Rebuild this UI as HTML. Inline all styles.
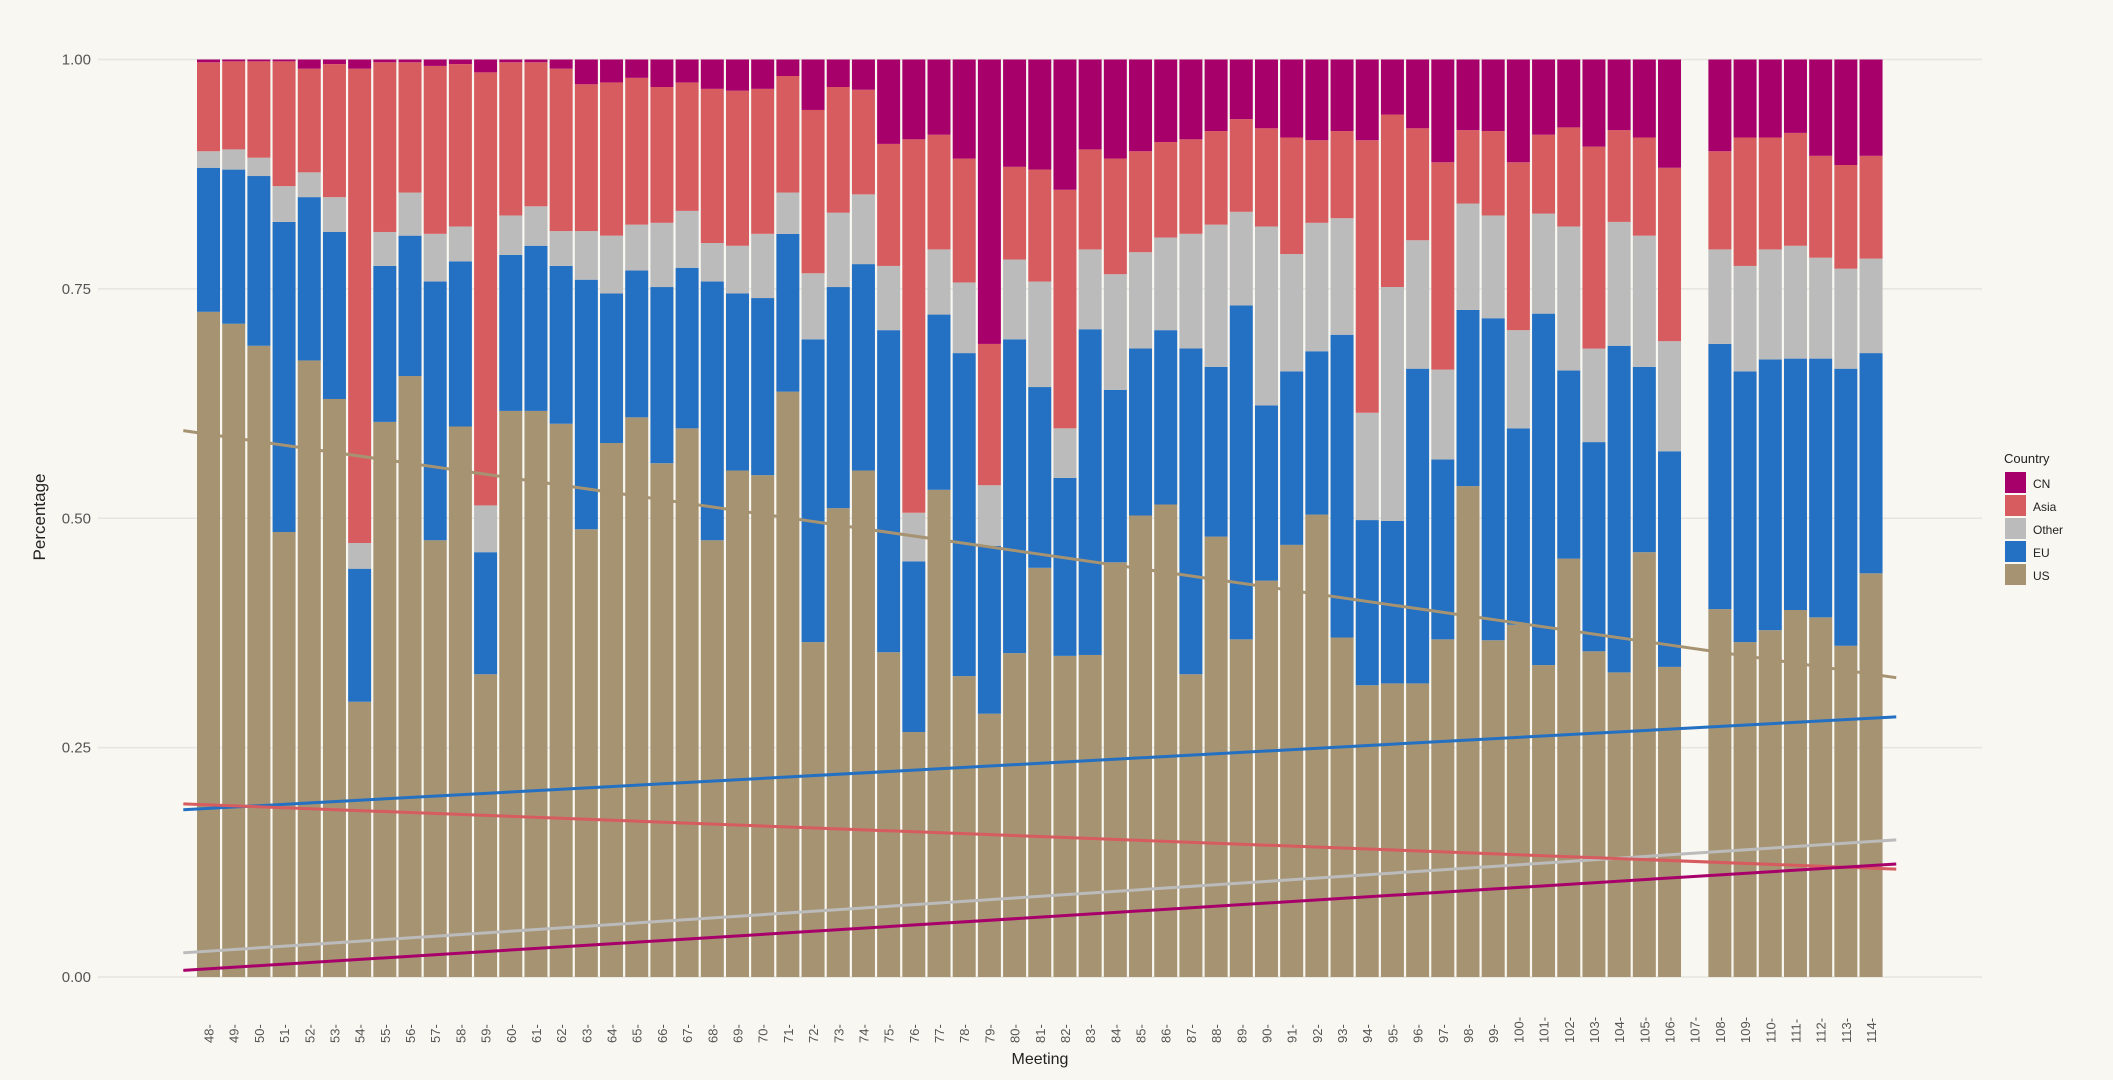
<!DOCTYPE html>
<html><head><meta charset="utf-8"><style>
html,body{margin:0;padding:0;background:#f8f7f1;}
svg{display:block;font-family:"Liberation Sans",sans-serif;}
</style></head><body>
<svg id="chart" width="2113" height="1080" viewBox="0 0 2113 1080"></svg>
<script>
const meetings = [48,49,50,51,52,53,54,55,56,57,58,59,60,61,62,63,64,65,66,67,68,69,70,71,72,73,74,75,76,77,78,79,80,81,82,83,84,85,86,87,88,89,90,91,92,93,94,95,96,97,98,99,100,101,102,103,104,105,106,107,108,109,110,111,112,113,114];
const usShare = [.725,.712,.688,.485,.672,.630,.300,.605,.655,.476,.600,.330,.617,.617,.603,.488,.582,.610,.560,.598,.476,.552,.547,.638,.365,.511,.552,.354,.267,.531,.328,.287,.353,.446,.350,.351,.452,.503,.515,.330,.480,.368,.432,.471,.504,.370,.318,.320,.320,.368,.535,.367,.384,.340,.456,.355,.332,.463,.338,null,.401,.365,.378,.400,.392,.361,.440];
const euShare = [.157,.168,.185,.338,.178,.182,.145,.170,.153,.282,.180,.133,.170,.180,.172,.272,.163,.160,.192,.175,.282,.193,.193,.172,.330,.241,.225,.351,.186,.191,.352,.183,.342,.197,.194,.355,.188,.182,.190,.355,.185,.364,.191,.189,.178,.330,.180,.177,.343,.196,.192,.351,.214,.383,.205,.228,.356,.202,.235,null,.289,.295,.295,.274,.282,.302,.240];
const otherShare = [.018,.022,.020,.039,.027,.038,.028,.037,.047,.052,.038,.051,.043,.043,.038,.053,.063,.050,.070,.062,.042,.052,.070,.045,.072,.081,.076,.070,.053,.071,.077,.066,.087,.115,.054,.087,.126,.105,.101,.125,.155,.102,.195,.128,.140,.127,.117,.255,.140,.098,.116,.112,.107,.109,.157,.102,.135,.143,.120,null,.103,.115,.120,.123,.110,.109,.103];
const asiaShare = [.097,.096,.105,.136,.113,.145,.517,.185,.142,.183,.177,.472,.167,.157,.177,.160,.167,.160,.148,.140,.168,.169,.158,.127,.178,.137,.114,.133,.407,.125,.135,.154,.101,.122,.260,.109,.126,.110,.104,.103,.102,.101,.107,.127,.090,.095,.297,.188,.122,.226,.080,.092,.183,.086,.108,.220,.100,.107,.189,null,.107,.140,.122,.123,.111,.113,.112];
const cnShare = [.003,.002,.002,.002,.010,.005,.010,.003,.003,.007,.005,.014,.003,.003,.010,.027,.025,.020,.030,.025,.032,.034,.032,.018,.055,.030,.033,.092,.087,.082,.108,.310,.117,.120,.142,.098,.108,.100,.090,.087,.078,.065,.075,.085,.088,.078,.088,.060,.075,.112,.077,.078,.112,.082,.074,.095,.077,.085,.118,null,.100,.085,.085,.080,.105,.115,.105];
const yTicks = [0,0.25,0.5,0.75,1];
const yTickLabels = ["0.00","0.25","0.50","0.75","1.00"];

const svg = document.getElementById('chart');
const NS = 'http://www.w3.org/2000/svg';
const X0 = 208.5, XSTEP = 25.19, BW = 23;
const Y0 = 977, Y1 = 59.5;
const xs = m => X0 + (m - meetings[0]) * XSTEP;
const ys = v => Y0 - v * (Y0 - Y1);
function mk(tag, attrs, text) {
  const e = document.createElementNS(NS, tag);
  for (const k in attrs) e.setAttribute(k, attrs[k]);
  if (text !== undefined) e.textContent = text;
  svg.appendChild(e);
  return e;
}
yTicks.forEach((t, i) => {
  const g = mk('line', {x1: 98, x2: 1982, y1: ys(t), y2: ys(t), stroke: '#e6e5e1', 'stroke-width': 1.5});
  
  
  const l = mk('text', {x: 91, y: ys(t) + 5, 'text-anchor': 'end', 'font-size': 15, fill: '#555'}, yTickLabels[i]);
  
  
});
const series = [
  {name: 'us', vals: usShare, color: '#a69372'},
  {name: 'eu', vals: euShare, color: '#2470c2'},
  {name: 'other', vals: otherShare, color: '#bbbbbb'},
  {name: 'asia', vals: asiaShare, color: '#d75c5f'},
  {name: 'cn', vals: cnShare, color: '#a8006a'}
];
meetings.forEach((m, i) => {
  let cum = 0;
  series.forEach(s => {
    const v = s.vals[i];
    if (v === null || v === undefined) return;
    const top = Math.min(1, cum + v);
    const r = mk('rect', {x: xs(m) - BW / 2, y: ys(top), width: BW, height: ys(cum) - ys(top), fill: s.color});
    
    
    cum = top;
  });
  const t = mk('text', {transform: `translate(${xs(m) + 5},1043) rotate(-90)`, 'font-size': 13, fill: '#555'}, m + '-');
  
  
});
const xmin = meetings[0] - 1, xmax = meetings[meetings.length - 1] + 1;
series.forEach(s => {
  let n = 0, sx = 0, sy = 0, sxx = 0, sxy = 0;
  meetings.forEach((m, i) => {
    const v = s.vals[i];
    if (v === null) return;
    n++; sx += m; sy += v; sxx += m * m; sxy += m * v;
  });
  const b = (n * sxy - sx * sy) / (n * sxx - sx * sx);
  const a = (sy - b * sx) / n;
  const ln = mk('line', {x1: xs(xmin), y1: ys(a + b * xmin), x2: xs(xmax), y2: ys(a + b * xmax), stroke: s.color, 'stroke-width': 3});
  
  
});
const yt = mk('text', {transform: 'translate(45,517) rotate(-90)', 'text-anchor': 'middle', 'font-size': 17, fill: '#222'}, 'Percentage');


const xt = mk('text', {x: 1040, y: 1064, 'text-anchor': 'middle', 'font-size': 16, fill: '#222'}, 'Meeting');


const lt = mk('text', {x: 2004, y: 463, 'font-size': 13, fill: '#222'}, 'Country');


const legendItems = [['CN', '#a8006a'], ['Asia', '#d75c5f'], ['Other', '#bbbbbb'], ['EU', '#2470c2'], ['US', '#a69372']];
legendItems.forEach((it, i) => {
  const y = 472 + i * 23;
  const r = mk('rect', {x: 2005, y: y, width: 21, height: 21, fill: it[1]});
  
  
  const t = mk('text', {x: 2033, y: y + 16, 'font-size': 12, fill: '#222'}, it[0]);
  
  
});
</script>
</body></html>
